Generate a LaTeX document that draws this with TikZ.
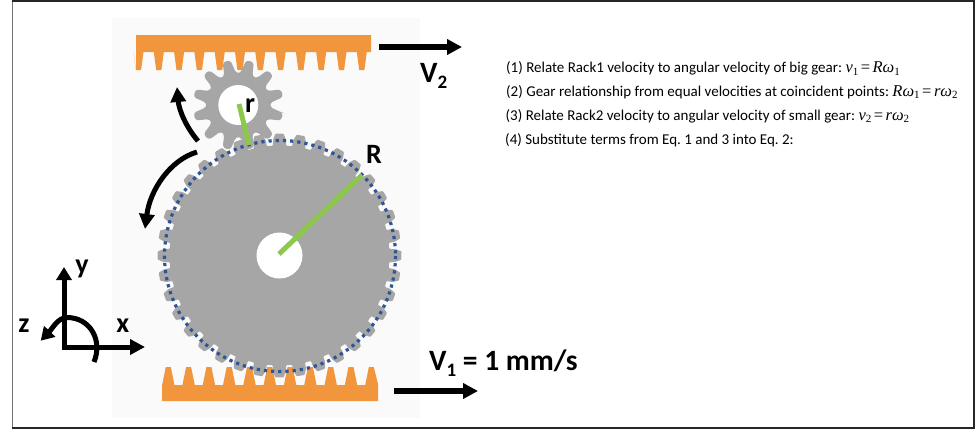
\documentclass[tikz,border=0pt]{standalone}
\usepackage{fontspec}
\usetikzlibrary{arrows.meta}
\setmainfont{Carlito}
\newfontfamily\eqfont{Liberation Serif}
\definecolor{rackor}{RGB}{241,150,60}
\definecolor{pitchblue}{RGB}{47,85,151}
\definecolor{bargreen}{RGB}{140,200,75}
\definecolor{geargrey}{RGB}{166,166,166}
\definecolor{panelgrey}{RGB}{250,250,250}
\newcommand{\eqv}[1]{{\eqfont\fontsize{16.5}{17}\selectfont\itshape #1}}
\newcommand{\eqs}[1]{\raisebox{-2.8pt}{\eqfont\fontsize{11}{11}\selectfont #1}}
\newcommand{\eqq}{\,{\eqfont\fontsize{16.5}{17}\selectfont =}\,}
\newcommand{\bodytxt}{\fontsize{15}{17}\selectfont\frenchspacing}
\begin{document}
\begin{tikzpicture}[x=1pt,y=-1pt,
  geargray/.style={fill=geargrey,draw=none},
  rackfill/.style={fill=rackor},
  greenbar/.style={draw=bargreen,line width=5pt},
  blackarrow/.style={draw=black,line width=5.5pt,-{Triangle[length=15pt,width=15pt]}},
  curvearrow/.style={draw=black,line width=5pt,-{Triangle[length=15pt,width=15pt]}},
  eqline/.style={anchor=base west,inner sep=0pt,font=\bodytxt},
  biglabel/.style={anchor=base west,inner sep=0pt,font=\bfseries\fontsize{29.5}{29.5}\selectfont},
  axislabel/.style={inner sep=0pt,font=\bfseries\fontsize{28}{28}\selectfont},
]
\useasboundingbox (0,0) rectangle (975,429);
\fill[white] (0,0) rectangle (975,429);
% frame
\draw[black!55,line width=1.4pt] (12.5,1) -- (12.5,428);
\draw[black!85,line width=1.4pt] (12,0.8) -- (974,0.8) -- (974,428) -- (12,428);
% faint panel
\fill[panelgrey] (112,18) rectangle (420,418);

% racks
\fill[rackfill] (136,35) -- (371,35) -- (371,52)
  \foreach \k in {11,10,...,0} { -- ({138.5+20.3*\k+5},52) -- ({138.5+20.3*\k+2.6},70) -- ({138.5+20.3*\k-2.6},70) -- ({138.5+20.3*\k-5},52) }
  -- (136,70) -- (136,35) -- cycle;
\fill[rackfill] (162,401) -- (378,401) -- (378,384) -- (373.8,367)
  -- (368.8,367) -- (365.2,385)
  \foreach \k in {9,8,...,0} { -- ({168.3+20.3*\k+6.2},385) -- ({168.3+20.3*\k+2.5},367) -- ({168.3+20.3*\k-2.5},367) -- ({168.3+20.3*\k-6.2},385) }
  -- (162,385) -- cycle;

% big gear
\begin{scope}[shift={(279.5,255.5)}]
  \fill[geargray,rounded corners=0.8pt] (-1.9:122)
    \foreach \a in {0,10,...,350} {
      -- ({\a-1.9}:122) -- ({\a+1.9}:122) -- ({\a+3.2}:116) -- ({\a+3.4}:110) -- ({\a+6.6}:110) -- ({\a+6.8}:116)
    } -- cycle;
  \fill[white] (0,0) circle (23);
\end{scope}

% small gear
\begin{scope}[shift={(238.3,105)}]
  \fill[geargray,rounded corners=3pt] (10:45)
    \foreach \a in {15,45,...,345} {
      -- ({\a-5}:45.5) -- ({\a+5}:45.5) -- ({\a+11}:32) -- ({\a+19}:32)
    } -- cycle;
  \fill[white] (0,0) circle (20);
\end{scope}

% pitch circle
\draw[pitchblue,line width=3.2pt,dash pattern=on 3.2pt off 4pt] (280,256) circle (115.5);

% radii
\coordinate (bigC) at (279,254);
\coordinate (bigR) at (362,175);
\coordinate (smallC) at (239,104);
\coordinate (smallR) at (249,145);
\draw[greenbar] (bigC) -- (bigR);
\draw[greenbar] (smallC) -- (smallR);
\node[axislabel] (rlab) at (250,105.7) {r};
\node[axislabel] (Rlab) at (374,154) {R};

% rotation arrows
\coordinate (a1s) at (198,141);
\coordinate (a1e) at (177,87);
\coordinate (a2s) at (197,152);
\coordinate (a2e) at (145,229);
\draw[curvearrow] (a1s) .. controls (186,127) and (179,110) .. (a1e);
\draw[curvearrow] (a2s) .. controls (170,160) and (150,190) .. (a2e);

% axes
\coordinate (orig) at (64,349);
\coordinate (ytip) at (64,267);
\coordinate (xtip) at (145,347);
\coordinate (arcS) at (94,362);
\coordinate (arcTop) at (67,317.5);
\coordinate (arcTip) at (40.7,340.7);
\draw[curvearrow,-{Triangle[length=13pt,width=15pt]}] (orig) -- (ytip);
\draw[curvearrow,-{Triangle[length=15pt,width=15pt]}] (62,347) -- (xtip);
\draw[curvearrow,-{Triangle[length=13pt,width=15pt]}] (arcS) .. controls (103,340) and (90,317.5) .. (arcTop) .. controls (58,317.5) and (52,329) .. (arcTip);
\node[axislabel] (ylab) at (82,269) {y};
\node[axislabel] (xlab) at (122.7,325.7) {x};
\node[axislabel] (zlab) at (24,326) {z};

% velocity arrows
\coordinate (v2s) at (379,47);
\coordinate (v2e) at (462,47);
\coordinate (v1s) at (394,391);
\coordinate (v1e) at (478,391);
\draw[blackarrow] (v2s) -- (v2e);
\draw[blackarrow] (v1s) -- (v1e);
\node[biglabel] (v2lab) at (420,82) {V\raisebox{-6pt}{\fontsize{19}{19}\selectfont 2}};
\node[biglabel] (v1lab) at (429,370) {V\raisebox{-6pt}{\fontsize{19}{19}\selectfont 1} = 1 mm/s};

% text
\node[eqline] (l1) at (506,72.5) {(1) Relate Rack1 velocity to angular velocity of big gear: \eqv{v}\eqs{1}\eqq\eqv{Rω}\eqs{1}};
\node[eqline] (l2) at (506,96) {(2) Gear relationship from equal velocities at coincident points: \eqv{Rω}\eqs{1}\eqq\eqv{rω}\eqs{2}};
\node[eqline] (l3) at (505.5,120) {(3) Relate Rack2 velocity to angular velocity of small gear: \eqv{v}\eqs{2}\eqq\eqv{rω}\eqs{2}};
\node[eqline] (l4) at (505,144) {(4) Substitute terms from Eq. 1 and 3 into Eq. 2:};
\end{tikzpicture}
\end{document}
